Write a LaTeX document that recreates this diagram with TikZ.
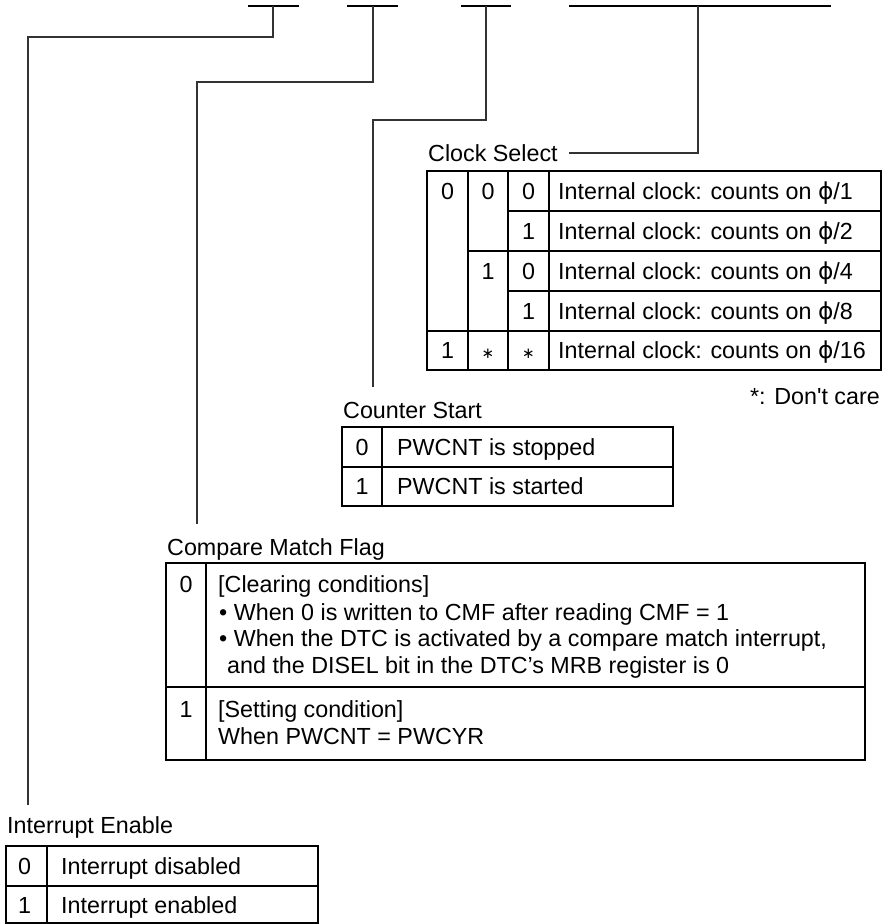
\documentclass[tikz,border=0pt]{standalone}
\usepackage{fontspec}
\setmainfont{Liberation Sans}
\newfontfamily\symfont{DejaVu Sans}
\newcommand{\ph}{{\symfont ϕ}}
\newcommand{\dc}{{\symfont\fontsize{15}{15}\selectfont ∗}}
\newcommand{\sq}{\XeTeXglyph\XeTeXcharglyph"27\relax}
\begin{document}
\begin{tikzpicture}[x=1pt,y=-1pt,
  txt/.style={anchor=west, inner sep=0pt, text height=16.7pt, text depth=0pt, font=\fontsize{23.3}{26}\selectfont},
  num/.style={anchor=center, inner sep=0pt, text height=16.7pt, text depth=0pt, font=\fontsize{23.3}{26}\selectfont},
  note/.style={anchor=east, inner sep=0pt, text height=16.7pt, text depth=0pt, font=\fontsize{23.3}{26}\selectfont},
  grid/.style={line width=1.1pt, draw=black},
  conn/.style={line width=1.1pt, draw=black!80},
  bar/.style={line width=1.4pt, draw=black}]
\useasboundingbox (0,0) rectangle (890,924);

% ---- bit bars at top
\coordinate (b1l) at (248,6); \coordinate (b1r) at (299,6); \coordinate (b1m) at (273,6);
\coordinate (b2l) at (347,6); \coordinate (b2r) at (398,6); \coordinate (b2m) at (373,6);
\coordinate (b3l) at (461,6); \coordinate (b3r) at (511,6); \coordinate (b3m) at (486,6);
\coordinate (b4l) at (569,6); \coordinate (b4r) at (831,6); \coordinate (b4m) at (698,6);
\draw[bar] (b1l) -- (b1r);
\draw[bar] (b2l) -- (b2r);
\draw[bar] (b3l) -- (b3r);
\draw[bar] (b4l) -- (b4r);

% ---- Clock Select
\node[txt] (cstitle) at (428,153) {Clock Select};
\coordinate (csend) at (569,153);
\draw[grid] (427,171) rectangle (881,370);
\draw[grid] (468,171) -- (468,370);
\draw[grid] (508,171) -- (508,370);
\draw[grid] (549,171) -- (549,370);
\draw[grid] (508,211) -- (881,211);
\draw[grid] (468,251) -- (881,251);
\draw[grid] (508,291) -- (881,291);
\draw[grid] (427,331) -- (881,331);
\node[num] (c1a) at (447.5,191) {0};
\node[num] (c2a) at (488,191) {0};
\node[num] (c2b) at (488,271) {1};
\node[num] (c3a) at (528.5,191) {0};
\node[num] (c3b) at (528.5,231) {1};
\node[num] (c3c) at (528.5,271) {0};
\node[num] (c3d) at (528.5,311) {1};
\node[num] (c1e) at (447.5,350.5) {1};
\node[num] (c2e) at (488,350.5) {\dc};
\node[num] (c3e) at (528.5,350.5) {\dc};
\node[txt] (cd1) at (558,191) {Internal clock: counts on \ph/1};
\node[txt] (cd2) at (558,231) {Internal clock: counts on \ph/2};
\node[txt] (cd3) at (558,271) {Internal clock: counts on \ph/4};
\node[txt] (cd4) at (558,311) {Internal clock: counts on \ph/8};
\node[txt] (cd5) at (558,350.5) {Internal clock: counts on \ph/16};
\node[note] (dcare) at (880,396) {*: Don\sq t care};

% ---- Counter Start
\node[txt] (sttitle) at (343,410) {Counter Start};
\coordinate (stend) at (373,387);
\draw[grid] (342,427) rectangle (673,506);
\draw[grid] (382,427) -- (382,506);
\draw[grid] (342,467) -- (673,467);
\node[num] (s0) at (362,447) {0};
\node[num] (s1) at (362,486.5) {1};
\node[txt] (sd0) at (397,447) {PWCNT is stopped};
\node[txt] (sd1) at (397,486.5) {PWCNT is started};

% ---- Compare Match Flag
\node[txt] (cmtitle) at (167,547) {Compare Match Flag};
\coordinate (cmend) at (197,524);
\draw[grid] (166,563) rectangle (865,760);
\draw[grid] (206,563) -- (206,760);
\draw[grid] (166,687) -- (865,687);
\node[num] (m0) at (186,584) {0};
\node[txt] (md0) at (218,584) {[Clearing conditions]};
\node[txt] (md1) at (219,612) {• When 0 is written to CMF after reading CMF = 1};
\node[txt] (md2) at (219,638) {• When the DTC is activated by a compare match interrupt,};
\node[txt] (md3) at (227,665) {and the DISEL bit in the DTC’s MRB register is 0};
\node[num] (m1) at (186,709) {1};
\node[txt] (md4) at (218,709) {[Setting condition]};
\node[txt] (md5) at (218,736) {When PWCNT = PWCYR};

% ---- Interrupt Enable
\node[txt] (ietitle) at (7,825) {Interrupt Enable};
\coordinate (ieend) at (28,805);
\draw[grid] (6,846) rectangle (318,923);
\draw[grid] (47,846) -- (47,923);
\draw[grid] (6,886) -- (318,886);
\node[num] (i0) at (24.5,866) {0};
\node[num] (i1) at (24.5,905) {1};
\node[txt] (id0) at (61,866) {Interrupt disabled};
\node[txt] (id1) at (61,905) {Interrupt enabled};

% ---- connectors
\draw[conn] (b1m) -- (273,37) -- (28,37) -- (ieend);
\draw[conn] (b2m) -- (373,82) -- (197,82) -- (cmend);
\draw[conn] (b3m) -- (486,120) -- (373,120) -- (stend);
\draw[conn] (b4m) -- (698,153) -- (csend);
\end{tikzpicture}
\end{document}
